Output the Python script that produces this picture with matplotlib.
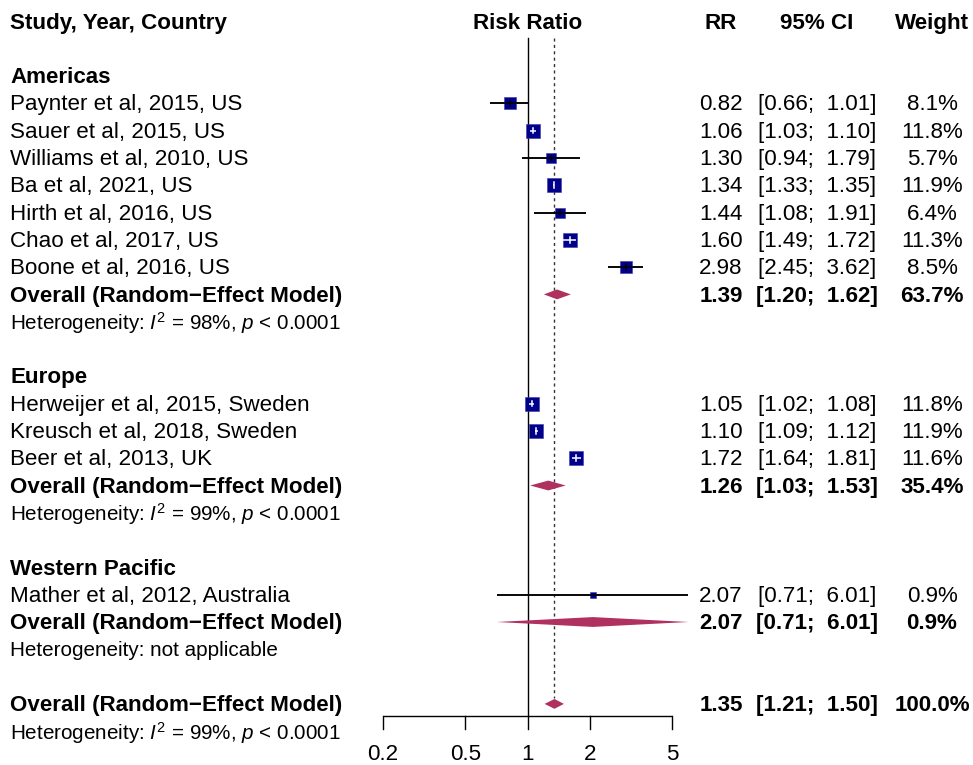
import numpy as np
import matplotlib
matplotlib.use("Agg")
import matplotlib.pyplot as plt
from matplotlib import transforms

plt.rcParams['font.family'] = ['Liberation Sans', 'DejaVu Sans']
plt.rcParams['mathtext.fontset'] = 'custom'
plt.rcParams['mathtext.rm'] = 'Liberation Sans'
plt.rcParams['mathtext.it'] = 'Liberation Sans:italic'

# ---------------- data ----------------
groups = ["Americas", "Europe", "Western Pacific"]
studies = [
    ["Paynter et al, 2015, US", "Sauer et al, 2015, US", "Williams et al, 2010, US",
     "Ba et al, 2021, US", "Hirth et al, 2016, US", "Chao et al, 2017, US",
     "Boone et al, 2016, US"],
    ["Herweijer et al, 2015, Sweden", "Kreusch et al, 2018, Sweden", "Beer et al, 2013, UK"],
    ["Mather et al, 2012, Australia"],
]
rr = [[0.82, 1.06, 1.30, 1.34, 1.44, 1.60, 2.98], [1.05, 1.10, 1.72], [2.07]]
lo = [[0.66, 1.03, 0.94, 1.33, 1.08, 1.49, 2.45], [1.02, 1.09, 1.64], [0.71]]
hi = [[1.01, 1.10, 1.79, 1.35, 1.91, 1.72, 3.62], [1.08, 1.12, 1.81], [6.01]]
weight = [[8.1, 11.8, 5.7, 11.9, 6.4, 11.3, 8.5], [11.8, 11.9, 11.6], [0.9]]
grp_rr = [1.39, 1.26, 2.07]
grp_lo = [1.20, 1.03, 0.71]
grp_hi = [1.62, 1.53, 6.01]
grp_w = [63.7, 35.4, 0.9]
grp_het = [r"Heterogeneity: $I^2$ = 98%, $p$ < 0.0001",
           r"Heterogeneity: $I^2$ = 99%, $p$ < 0.0001",
           "Heterogeneity: not applicable"]
tot_rr, tot_lo, tot_hi, tot_w = 1.35, 1.21, 1.50, 100.0
tot_het = r"Heterogeneity: $I^2$ = 99%, $p$ < 0.0001"
xticks = [0.2, 0.5, 1, 2, 5]
xticklabels = ["0.2", "0.5", "1", "2", "5"]

# ---------------- layout ----------------
W, H = 973, 765
fig = plt.figure(figsize=(W / 100, H / 100), dpi=100)
ax = fig.add_axes([0, 0, 1, 1])
ax.set_xscale('log')
px_one, px_dec = 527.5, 206.7
ax.set_xlim(10 ** ((0 - px_one) / px_dec), 10 ** ((W - px_one) / px_dec))
row0, dy = 76.0, 27.3
ax.set_ylim((H - row0) / dy, -row0 / dy)
ax.axis('off')

tr = transforms.blended_transform_factory(ax.transAxes, ax.transData)
def X(px):
    return px / W

FS = 16.1
FS_HET = 14.9
NAVY = '#00008B'
MAROON = '#B03060'
TOFF = 0.06  # small downward text offset (rows)

def txt(xpx, k, s, ha='left', bold=False, fs=FS):
    ax.text(X(xpx), k + TOFF, s, transform=tr, ha=ha, va='center', fontsize=fs,
            fontweight='bold' if bold else 'normal')

def fmt_ci(l, h):
    return f"[{l:.2f};  {h:.2f}]"

def right_cols(k, r, l, h, w, bold):
    txt(721, k, f"{r:.2f}", ha='center', bold=bold)
    txt(817, k, fmt_ci(l, h), ha='center', bold=bold)
    txt(932, k, f"{w:.1f}%", ha='center', bold=bold)

def diamond(k, r, l, h):
    hh = 0.18
    ax.fill([l, r, h, r], [k, k - hh, k, k + hh], color=MAROON, lw=0, zorder=4)

# header
txt(10, -2, "Study, Year, Country", bold=True)
ax.text(1, -2 + TOFF, "Risk Ratio", ha='center', va='center', fontsize=FS, fontweight='bold')
txt(721, -2, "RR", ha='center', bold=True)
txt(817, -2, "95% CI", ha='center', bold=True)
txt(932, -2, "Weight", ha='center', bold=True)

k = 0
for g in range(len(groups)):
    txt(10, k, groups[g], bold=True)
    k += 1
    for i, name in enumerate(studies[g]):
        r, l, h, w = rr[g][i], lo[g][i], hi[g][i], weight[g][i]
        txt(10, k, name)
        right_cols(k, r, l, h, w, False)
        side_px = max(14.7 * np.sqrt(w / 11.8), 5.5)
        ci_px = px_dec * np.log10(h / l)
        inside = ci_px < side_px
        if not inside:
            ax.plot([l, h], [k, k], color='black', lw=1.1, zorder=3, solid_capstyle='butt')
        ax.scatter([r], [k], marker='s', s=(side_px * 0.72) ** 2, color=NAVY,
                   edgecolors='#3a3aa8', linewidths=0.4, zorder=5)
        c = 'white' if inside else 'black'
        ax.plot([l, h], [k, k], color=c, lw=1.1, zorder=6, solid_capstyle='butt')
        if side_px > 8:
            th = min(0.1, side_px / dy * 0.22)
            ax.plot([r, r], [k - th, k + th], color=c, lw=1.1, zorder=6)
        k += 1
    txt(10, k, "Overall (Random\u2212Effect Model)", bold=True)
    right_cols(k, grp_rr[g], grp_lo[g], grp_hi[g], grp_w[g], True)
    diamond(k, grp_rr[g], grp_lo[g], grp_hi[g])
    k += 1
    txt(10, k, grp_het[g], fs=FS_HET)
    k += 2

# overall
txt(10, k, "Overall (Random\u2212Effect Model)", bold=True)
right_cols(k, tot_rr, tot_lo, tot_hi, tot_w, True)
diamond(k, tot_rr, tot_lo, tot_hi)
txt(10, k + 1, tot_het, fs=FS_HET)

# reference lines
ytop = (38 - row0) / dy
yaxis = (716 - row0) / dy
ax.plot([1, 1], [ytop, yaxis], color='black', lw=1.0, zorder=2)
ax.plot([tot_rr, tot_rr], [ytop, k - 0.2], color='#333333', lw=1.0,
        dashes=(2.2, 2.4), zorder=2)

# x axis
ax.plot([xticks[0], xticks[-1]], [yaxis, yaxis], color='black', lw=1.0, solid_capstyle='butt')
ytick_end = (729 - row0) / dy
ylab = (754 - row0) / dy
for t, lab in zip(xticks, xticklabels):
    ax.plot([t, t], [yaxis, ytick_end], color='black', lw=1.0)
    ax.text(t, ylab, lab, ha='center', va='center', fontsize=FS)

fig.savefig("out.png", dpi=100)
